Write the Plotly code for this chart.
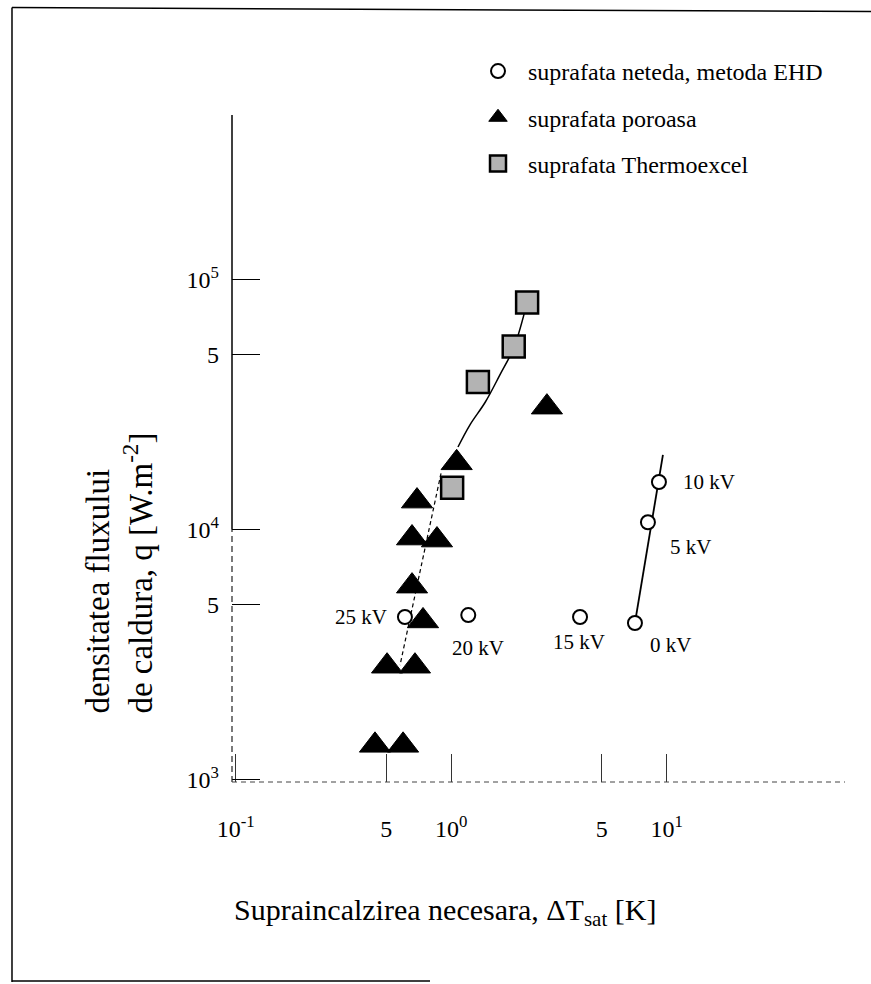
import numpy as np
import plotly.graph_objects as go

# ---------------- data ----------------
# smooth surface, EHD method (open circles)
ehd_dt = [0.61, 1.20, 3.96, 7.12, 8.18, 9.20]
ehd_q = [4470, 4550, 4470, 4230, 10700, 15500]
ehd_labels = ["25 kV", "20 kV", "15 kV", "0 kV", "5 kV", "10 kV"]

# EHD fit line (0 kV -> 10 kV and beyond)
ehd_line_dt = [7.12, 9.60]
ehd_line_q = [4230, 19900]

# porous surface (filled triangles)
por_dt = [2.78, 1.06, 0.694, 0.658, 0.859, 0.658, 0.740, 0.504, 0.679, 0.443, 0.598]
por_q = [30900, 18500, 13000, 9250, 9080, 5940, 4310, 2840, 2840, 1370, 1370]

# Thermoexcel surface (shaded squares)
thx_dt = [2.25, 1.95, 1.33, 1.01]
thx_q = [81000, 54000, 39000, 14700]

# solid curve through Thermoexcel data
curve_dt = [2.25, 1.956, 1.68, 1.44, 1.22, 1.075]
curve_q = [81300, 53700, 41500, 32400, 26200, 21400]

# dashed trend line through porous data
dash_dt = [0.897, 0.579]
dash_q = [16800, 2870]

x_tickvals = [0.1, 0.5, 1, 5, 10]
x_ticktext = ["10<sup>-1</sup>", "5", "10<sup>0</sup>", "5", "10<sup>1</sup>"]
y_tickvals = [1000, 5000, 10000, 50000, 100000]
y_ticktext = ["10<sup>3</sup>", "5", "10<sup>4</sup>", "5", "10<sup>5</sup>"]

legend_names = ["suprafata neteda, metoda EHD", "suprafata poroasa", "suprafata Thermoexcel"]
x_title = "Supraincalzirea necesara, \u0394T<sub>sat</sub> [K]"
y_title = "densitatea fluxului<br>de caldura, q [W.m<sup>-2</sup>]"

# ---------------- styling ----------------
SERIF = "Liberation Serif, Times New Roman, serif"
# label offsets (pixels) relative to each EHD point: (xanchor, xshift, yshift)
label_offsets = [("right", -16, 0), ("center", 10, -33), ("center", -1, -25),
                 ("center", 36, -22), ("center", 43, -25), ("left", 22, 0)]

fig = go.Figure()

fig.add_trace(go.Scatter(x=curve_dt, y=curve_q, mode="lines",
                         line=dict(color="black", width=1.5, shape="spline"),
                         showlegend=False, hoverinfo="skip"))
fig.add_trace(go.Scatter(x=dash_dt, y=dash_q, mode="lines",
                         line=dict(color="black", width=1.2, dash="4px,3px"),
                         showlegend=False, hoverinfo="skip"))
fig.add_trace(go.Scatter(x=ehd_line_dt, y=ehd_line_q, mode="lines",
                         line=dict(color="black", width=1.8),
                         showlegend=False, hoverinfo="skip"))

fig.add_trace(go.Scatter(x=ehd_dt, y=ehd_q, mode="markers", name=legend_names[0],
                         legendgroup="a",
                         marker=dict(symbol="circle", size=14, color="white",
                                     line=dict(color="black", width=2))))
fig.add_trace(go.Scatter(x=por_dt, y=por_q, mode="markers", name=legend_names[1],
                         legendgroup="b",
                         marker=dict(symbol="triangle-up", size=27, color="black",
                                     line=dict(color="black", width=1))))
fig.add_trace(go.Scatter(x=thx_dt, y=thx_q, mode="markers", name=legend_names[2],
                         legendgroup="c",
                         marker=dict(symbol="square", size=22, color="#b3b3b3",
                                     line=dict(color="black", width=2.5))))

annotations = []
for xv, yv, txt, (anc, xs, ys) in zip(ehd_dt, ehd_q, ehd_labels, label_offsets):
    annotations.append(dict(x=np.log10(xv), y=np.log10(yv), xref="x", yref="y",
                            text=txt, showarrow=False, xanchor=anc, yanchor="middle",
                            xshift=xs, yshift=ys,
                            font=dict(family=SERIF, size=21, color="black")))

# axis titles
annotations.append(dict(x=0.3475, y=-0.195, xref="paper", yref="paper", text=x_title,
                        showarrow=False, xanchor="center", yanchor="middle",
                        font=dict(family=SERIF, size=30, color="black")))
annotations.append(dict(x=-0.183, y=0.100, xref="paper", yref="paper", text=y_title,
                        showarrow=False, textangle=-90, align="left",
                        xanchor="center", yanchor="bottom",
                        font=dict(family=SERIF, size=33, color="black")))

shapes = [
    # y axis: solid upper part, dashed lower part
    dict(type="line", xref="paper", yref="paper", x0=0, x1=0, y0=0.378, y1=1,
         line=dict(color="black", width=1.5)),
    dict(type="line", xref="paper", yref="paper", x0=0, x1=0, y0=0, y1=0.378,
         line=dict(color="#222", width=1.2, dash="6px,4px")),
    # x axis: faint dashed
    dict(type="line", xref="paper", yref="paper", x0=0, x1=1, y0=0, y1=0,
         line=dict(color="#444", width=1, dash="5px,4px")),
    # frame of the scanned figure
    dict(type="line", xref="paper", yref="paper", x0=-0.3589, x1=-0.3589, y0=-0.2999, y1=1.161,
         line=dict(color="black", width=1.5)),
    dict(type="line", xref="paper", yref="paper", x0=-0.3589, x1=1.05, y0=1.161, y1=1.155,
         line=dict(color="black", width=1.5)),
    dict(type="line", xref="paper", yref="paper", x0=-0.3589, x1=0.323, y0=-0.2985, y1=-0.2985,
         line=dict(color="black", width=1.5)),
]

fig.update_layout(
    width=871, height=984,
    margin=dict(l=232, r=26, t=115, b=202),
    paper_bgcolor="white", plot_bgcolor="white",
    font=dict(family=SERIF, size=22, color="black"),
    showlegend=True,
    legend=dict(x=0.385, y=1.099, xanchor="left", yanchor="top",
                font=dict(family=SERIF, size=24, color="black"),
                itemwidth=50, tracegroupgap=12, bgcolor="rgba(0,0,0,0)"),
    annotations=annotations,
    shapes=shapes,
)

fig.update_xaxes(type="log", range=[-1.017, 1.827], showgrid=False, zeroline=False,
                 showline=False, tickvals=x_tickvals, ticktext=x_ticktext,
                 ticks="inside", ticklen=28, tickwidth=1, tickcolor="#333",
                 ticklabelstandoff=30,
                 tickfont=dict(family=SERIF, size=24, color="black"))
fig.update_yaxes(type="log", range=[2.990, 5.659], showgrid=False, zeroline=False,
                 showline=False, tickvals=y_tickvals, ticktext=y_ticktext,
                 ticks="inside", ticklen=28, tickwidth=1, tickcolor="black",
                 ticklabelstandoff=12,
                 tickfont=dict(family=SERIF, size=24, color="black"))

fig.write_html("out.html")
